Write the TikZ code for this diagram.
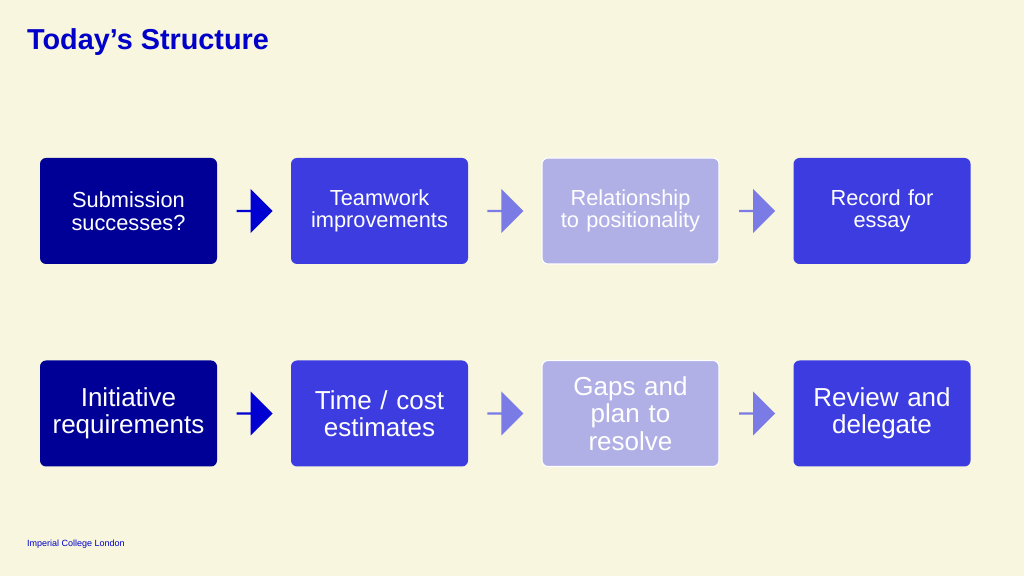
\documentclass[tikz,border=0pt]{standalone}
\usepackage{fontspec}
\setmainfont{Liberation Sans}
\usetikzlibrary{shapes.arrows,positioning}
\definecolor{paper}{HTML}{F8F6DF}
\definecolor{navy}{HTML}{000096}
\definecolor{royal}{HTML}{3C3CE0}
\definecolor{lilac}{HTML}{B0B0E6}
\definecolor{titleblue}{HTML}{0000C8}
\definecolor{arrowdark}{HTML}{0000D0}
\definecolor{arrowlight}{HTML}{7B7BE6}
\begin{document}
\begin{tikzpicture}[
  every node/.style={inner sep=2pt},
  topic/.style={rounded corners=0.15cm,minimum width=4.425cm,minimum height=2.65cm,
    text width=4.2cm,align=center,text=white,font=\fontsize{15.5}{16}\selectfont},
  bigtopic/.style={topic,font=\fontsize{18.5}{19.5}\selectfont},
  flow/.style={single arrow,minimum width=1.1cm,minimum height=0.9cm,
    single arrow head extend=0.12cm,inner sep=0pt},
  ]
  \fill[paper] (0,0) rectangle (25.6,14.4);
  \node[anchor=west,text=titleblue,font=\fontsize{20.5}{22}\selectfont\bfseries] (title) at (0.6,13.35) {Today’s Structure};
  \node[anchor=west,text=titleblue,font=\fontsize{6.4}{7}\selectfont] (footer) at (0.6,0.8) {Imperial College London};

  % first row
  \node[topic,fill=navy] (A) at (3.2125,9.125) {Submission\\successes?};
  \node[topic,fill=royal] (B) at (9.4875,9.125) {Teamwork\\improvements};
  \node[topic,fill=lilac,draw=white,line width=0.8pt] (C) at (15.7625,9.125) {Relationship\\to positionality};
  \node[topic,fill=royal] (D) at (22.05,9.125) {Record for\\essay};
  % second row
  \node[bigtopic,fill=navy] (E) at (3.2125,4.0625) {Initiative\\requirements};
  \node[bigtopic,fill=royal] (F) at (9.4875,4.0625) {Time / cost\\estimates};
  \node[bigtopic,fill=lilac,draw=white,line width=0.8pt] (G) at (15.7625,4.0625) {Gaps and\\plan to\\resolve};
  \node[bigtopic,fill=royal] (H) at (22.05,4.0625) {Review and\\delegate};

  % block arrows
  \path (A) -- node[flow,fill=arrowdark] (ab) {} (B);
  \path (B) -- node[flow,fill=arrowlight] (bc) {} (C);
  \path (C) -- node[flow,fill=arrowlight] (cd) {} (D);
  \path (E) -- node[flow,fill=arrowdark] (ef) {} (F);
  \path (F) -- node[flow,fill=arrowlight] (fg) {} (G);
  \path (G) -- node[flow,fill=arrowlight] (gh) {} (H);
\end{tikzpicture}
\end{document}
